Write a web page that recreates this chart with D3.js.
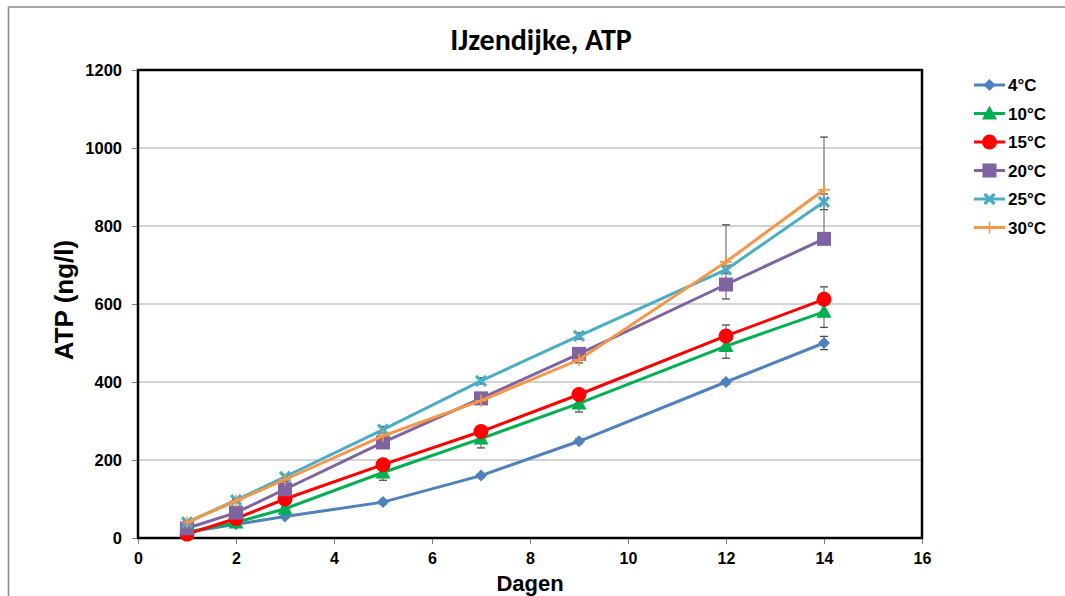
<!DOCTYPE html>
<html><head><meta charset="utf-8">
<script src="https://cdn.jsdelivr.net/npm/d3@7"></script>
<style>
html,body{margin:0;padding:0;background:#fff;}
svg{display:block;}
</style></head>
<body>
<svg id="chart" width="1065" height="596"></svg>
<script>
const days = [1, 2, 3, 5, 7, 9, 12, 14];
const seriesNames = ["4°C", "10°C", "15°C", "20°C", "25°C", "30°C"];
const seriesColors = ["#4f81bd", "#00b050", "#ff0000", "#8064a2", "#4bacc6", "#f79646"];
const seriesMarkers = ["diamond", "triangle", "circle", "square", "x", "plus"];
const v4  = [15, 35, 55, 92, 160, 248, 400, 500];
const v10 = [15, 40, 75, 168, 255, 345, 492, 580];
const v15 = [10, 50, 100, 188, 273, 368, 518, 612];
const v20 = [25, 65, 125, 245, 358, 472, 650, 767];
const v25 = [40, 97, 157, 278, 403, 518, 688, 862];
const v30 = [40, 95, 150, 262, 352, 457, 708, 893];
const e4  = [3, 3, 4, 5, 5, 6, 6, 17];
const e10 = [3, 4, 5, 20, 24, 22, 31, 40];
const e15 = [3, 4, 5, 8, 8, 8, 28, 32];
const e20 = [3, 4, 5, 8, 8, 8, 10, 10];
const e25 = [3, 4, 5, 8, 8, 8, 10, 20];
const e30 = [3, 4, 5, 8, 8, 8, 95, 135];
const seriesValues = [v4, v10, v15, v20, v25, v30];
const seriesErrors = [e4, e10, e15, e20, e25, e30];
const xTicks = [0, 2, 4, 6, 8, 10, 12, 14, 16];
const yTicks = [0, 200, 400, 600, 800, 1000, 1200];

const svg = d3.select("#chart");
const L = 138, R = 922, T = 70, B = 538;
const x = d3.scaleLinear().domain([0, 16]).range([L, R]);
const y = d3.scaleLinear().domain([0, 1200]).range([B, T]);
const boldFont = "'Liberation Sans', Arial, sans-serif";

// outer border
svg.append("path").attr("d", `M8.5,600 L8.5,7 L1070,7`)
  .attr("fill", "none").attr("stroke", "#898989").attr("stroke-width", 1.6);

// gridlines
svg.append("g").selectAll("line").data(yTicks.filter(d => d > 0 && d < 1200)).join("line")
  .attr("x1", L).attr("x2", R).attr("y1", d => y(d)).attr("y2", d => y(d))
  .attr("stroke", "#a6a6a6").attr("stroke-width", 1);

// axes
const yAxis = d3.axisLeft(y).tickValues(yTicks).tickFormat(d3.format("d")).tickSize(6).tickPadding(10);
const gy = svg.append("g").attr("transform", `translate(${L},0)`).call(yAxis);
gy.select(".domain").remove();
gy.selectAll(".tick line").attr("stroke", "#808080");
gy.selectAll("text").attr("font-family", boldFont).attr("font-weight", "bold")
  .attr("font-size", 16.5).attr("fill", "#000");

const xAxis = d3.axisBottom(x).tickValues(xTicks).tickFormat(d3.format("d")).tickSize(6).tickPadding(9);
const gx = svg.append("g").attr("transform", `translate(0,${B})`).call(xAxis);
gx.select(".domain").remove();
gx.selectAll(".tick line").attr("stroke", "#808080");
gx.selectAll("text").attr("font-family", boldFont).attr("font-weight", "bold")
  .attr("font-size", 16).attr("fill", "#000");

// plot box
svg.append("rect").attr("x", L).attr("y", T).attr("width", R - L).attr("height", B - T)
  .attr("fill", "none").attr("stroke", "#000").attr("stroke-width", 2.5);

// error bars
const eg = svg.append("g");
seriesValues.forEach((vals, si) => {
  vals.forEach((v, i) => {
    const e = seriesErrors[si][i];
    const cx = x(days[i]);
    eg.append("line").attr("x1", cx).attr("x2", cx).attr("y1", y(v - e)).attr("y2", y(v + e))
      .attr("stroke", "#7f7f7f").attr("stroke-width", 1.3);
    [v - e, v + e].forEach(w => {
      eg.append("line").attr("x1", cx - 4).attr("x2", cx + 4).attr("y1", y(w)).attr("y2", y(w))
        .attr("stroke", "#4d4d4d").attr("stroke-width", 1.3);
    });
  });
});

function drawMarker(g, type, cx, cy, color) {
  if (type === "diamond") {
    g.append("path").attr("d", `M${cx},${cy-6}L${cx+6},${cy}L${cx},${cy+6}L${cx-6},${cy}Z`).attr("fill", color);
  } else if (type === "triangle") {
    g.append("path").attr("d", `M${cx},${cy-8}L${cx+7.5},${cy+6}L${cx-7.5},${cy+6}Z`).attr("fill", color);
  } else if (type === "circle") {
    g.append("circle").attr("cx", cx).attr("cy", cy).attr("r", 7.5).attr("fill", color);
  } else if (type === "square") {
    g.append("rect").attr("x", cx - 7).attr("y", cy - 7).attr("width", 14).attr("height", 14).attr("fill", color);
  } else if (type === "x") {
    g.append("path").attr("d", `M${cx-5},${cy-5}L${cx+5},${cy+5}M${cx+5},${cy-5}L${cx-5},${cy+5}`)
      .attr("stroke", color).attr("stroke-width", 3.2);
  } else if (type === "plus") {
    g.append("path").attr("d", `M${cx-6},${cy}L${cx+6},${cy}M${cx},${cy-6}L${cx},${cy+6}`)
      .attr("stroke", color).attr("stroke-width", 1.6);
  }
}

const line = d3.line().x(d => x(d[0])).y(d => y(d[1]));
seriesValues.forEach((vals, si) => {
  const g = svg.append("g");
  const pts = days.map((d, i) => [d, vals[i]]);
  g.append("path").attr("d", line(pts)).attr("fill", "none")
    .attr("stroke", seriesColors[si]).attr("stroke-width", 3);
  pts.forEach(p => drawMarker(g, seriesMarkers[si], x(p[0]), y(p[1]), seriesColors[si]));
});

// legend
const lg = svg.append("g");
seriesNames.forEach((name, i) => {
  const cy = 85 + i * 28.5;
  lg.append("line").attr("x1", 974).attr("x2", 1005).attr("y1", cy).attr("y2", cy)
    .attr("stroke", seriesColors[i]).attr("stroke-width", 3);
  drawMarker(lg, seriesMarkers[i], 989.5, cy, seriesColors[i]);
  lg.append("text").attr("x", 1008).attr("y", cy + 6).text(name)
    .attr("font-family", boldFont).attr("font-weight", "bold").attr("font-size", 17).attr("fill", "#000");
});

// titles
svg.append("text").attr("x", 541).attr("y", 50).attr("text-anchor", "middle")
  .attr("font-family", "Carlito, 'Liberation Sans Narrow', 'Open Sans', sans-serif")
  .attr("font-weight", "bold").attr("font-size", 30).text("IJzendijke, ATP");
svg.append("text").attr("transform", "translate(73,300) rotate(-90)").attr("text-anchor", "middle")
  .attr("font-family", boldFont).attr("font-weight", "bold").attr("font-size", 26).text("ATP (ng/l)");
svg.append("text").attr("x", 530).attr("y", 590.5).attr("text-anchor", "middle")
  .attr("font-family", boldFont).attr("font-weight", "bold").attr("font-size", 22).text("Dagen");
</script>
</body></html>
